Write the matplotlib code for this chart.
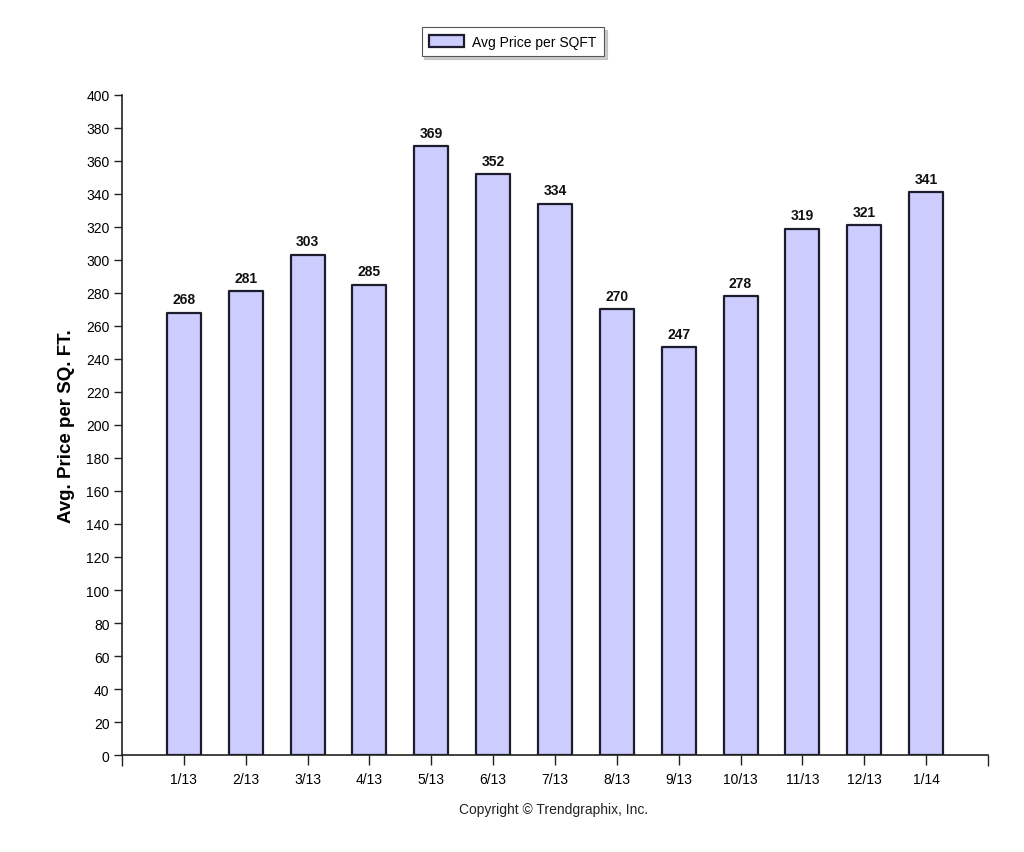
import matplotlib
matplotlib.use("Agg")
from matplotlib import pyplot as plt

months = ["1/13", "2/13", "3/13", "4/13", "5/13", "6/13", "7/13",
          "8/13", "9/13", "10/13", "11/13", "12/13", "1/14"]
price_sqft = [268, 281, 303, 285, 369, 352, 334, 270, 247, 278, 319, 321, 341]
y_ticks = list(range(0, 401, 20))

plt.rcParams['font.family'] = ['Liberation Sans', 'DejaVu Sans']

fig = plt.figure(figsize=(10.24, 8.53), dpi=100)
ax = fig.add_axes([0.1191, 0.1137, 0.8457, 0.7738])

pos = list(range(len(months)))
bars = ax.bar(pos, price_sqft, width=0.55, color="#ccccff", edgecolor="#1c1c2c",
              linewidth=1.6, label="Avg Price per SQFT", joinstyle="round")

for x, v in zip(pos, price_sqft):
    ax.text(x, v + 4, str(v), ha="center", va="bottom", fontsize=10,
            fontweight="bold", color="#111111")

ax.set_xlim(-1, 13)
ax.set_ylim(0, 400)
ax.set_yticks(y_ticks)
ax.set_xticks(pos)
ax.set_xticklabels(months)
# ticks at the ends of the x axis without labels
ax.set_xticks([-1, 13], minor=True)
ax.tick_params(axis="x", which="minor", length=8, width=1, color="#222222")
ax.tick_params(axis="x", which="major", length=7, width=1, color="#222222",
               labelsize=10, pad=5)
ax.tick_params(axis="y", length=6, width=1, color="#222222", labelsize=10, pad=3)

for s in ["top", "right"]:
    ax.spines[s].set_visible(False)
for s in ["left", "bottom"]:
    ax.spines[s].set_color("#222222")
    ax.spines[s].set_linewidth(1.2)

ax.set_ylabel("Avg. Price per SQ. FT.", fontsize=13.5, fontweight="bold", labelpad=8)

leg = ax.legend(loc="upper center", bbox_to_anchor=(0.4515, 1.1028), frameon=True,
                fancybox=False, shadow={"color": "#aaaaaa", "alpha": 0.6},
                fontsize=10, handlelength=2.5,
                handleheight=0.9, borderpad=0.55, handletextpad=0.6,
                borderaxespad=0)
leg.get_frame().set_edgecolor("#555555")
leg.get_frame().set_linewidth(0.8)

fig.text(0.541, 0.05, "Copyright \u00a9 Trendgraphix, Inc.", ha="center",
         va="center", fontsize=10, color="#222222")

plt.savefig("out.png", dpi=100)
